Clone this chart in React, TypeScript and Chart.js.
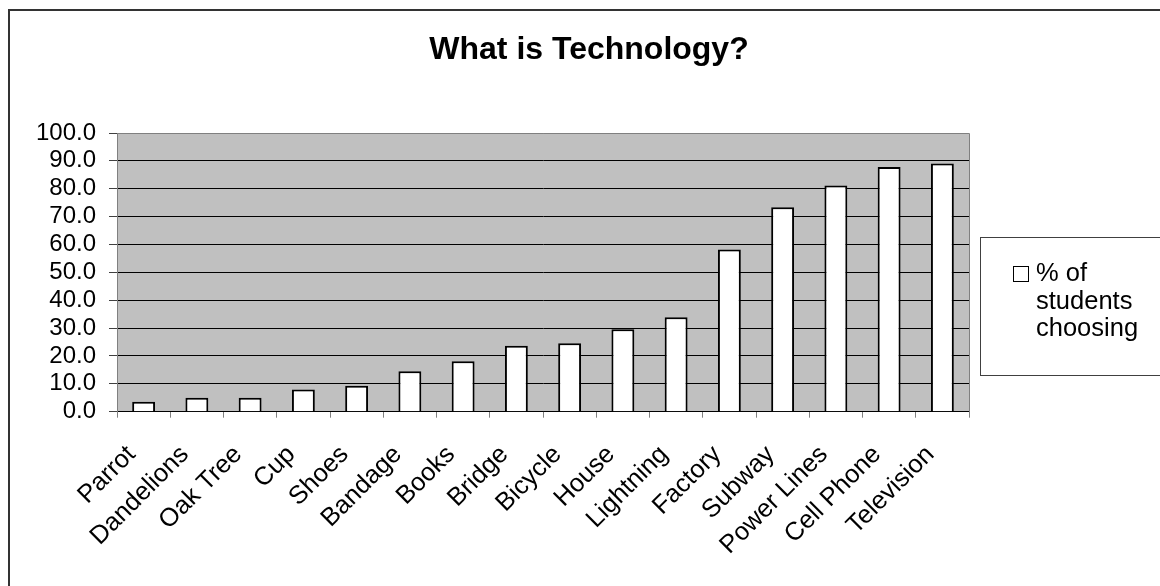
import React, { useEffect, useRef } from "react";
import { Chart, registerables } from "chart.js";

Chart.register(...registerables);

const categories = [
  "Parrot", "Dandelions", "Oak Tree", "Cup", "Shoes", "Bandage", "Books", "Bridge",
  "Bicycle", "House", "Lightning", "Factory", "Subway", "Power Lines", "Cell Phone", "Television",
];
const percentChoosing = [3.6, 5.0, 5.0, 8.0, 9.3, 14.5, 18.1, 23.7, 24.6, 29.6, 33.9, 58.2, 73.4, 81.2, 87.8, 89.1];
const seriesLabel = "% of students choosing";
const chartTitle = "What is Technology?";
const yMin = 0;
const yMax = 100;
const yStep = 10;

const FONT = '"Liberation Sans", Arial, sans-serif';

const decorPlugin = {
  id: "decor",
  beforeDraw(chart: any) {
    const { ctx, chartArea } = chart;
    ctx.save();
    ctx.fillStyle = "#ffffff";
    ctx.fillRect(0, 0, chart.width, chart.height);
    ctx.fillStyle = "#c0c0c0";
    ctx.fillRect(chartArea.left, chartArea.top, chartArea.right - chartArea.left, chartArea.bottom - chartArea.top);
    ctx.restore();
  },
  afterDraw(chart: any) {
    const { ctx, chartArea } = chart;
    ctx.save();
    // plot area border (top & right)
    ctx.strokeStyle = "#808080";
    ctx.lineWidth = 1;
    ctx.beginPath();
    ctx.moveTo(Math.round(chartArea.left) + 0.5, Math.round(chartArea.top) + 0.5);
    ctx.lineTo(Math.round(chartArea.right) + 0.5, Math.round(chartArea.top) + 0.5);
    ctx.lineTo(Math.round(chartArea.right) + 0.5, Math.round(chartArea.bottom) + 0.5);
    ctx.stroke();

    // outer chart border (left & top visible)
    ctx.strokeStyle = "#333333";
    ctx.lineWidth = 2;
    ctx.beginPath();
    ctx.moveTo(9, chart.height + 2);
    ctx.lineTo(9, 10);
    ctx.lineTo(chart.width + 2, 10);
    ctx.stroke();

    // title
    ctx.fillStyle = "#000";
    ctx.font = `bold 32px ${FONT}`;
    ctx.textAlign = "center";
    ctx.textBaseline = "middle";
    ctx.fillText(chartTitle, 589, 50);

    // legend box
    const lx = 980.5, ly = 237.5, lw = 200, lh = 138;
    ctx.fillStyle = "#ffffff";
    ctx.fillRect(lx, ly, lw, lh);
    ctx.strokeStyle = "#404040";
    ctx.lineWidth = 1;
    ctx.strokeRect(lx, ly, lw, lh);

    const ds = chart.data.datasets[0];
    ctx.fillStyle = ds.backgroundColor;
    ctx.fillRect(1013.5, 266.5, 15, 15);
    ctx.strokeStyle = "#000";
    ctx.strokeRect(1013.5, 266.5, 15, 15);

    ctx.font = `25.5px ${FONT}`;
    ctx.textAlign = "left";
    ctx.textBaseline = "alphabetic";
    ctx.fillStyle = "#000";
    const words = String(ds.label).split(" ");
    const lines: string[] = [];
    let cur = "";
    for (const w of words) {
      const test = cur ? cur + " " + w : w;
      if (cur && ctx.measureText(test).width > 115) {
        lines.push(cur);
        cur = w;
      } else {
        cur = test;
      }
    }
    if (cur) lines.push(cur);
    lines.forEach((l, i) => ctx.fillText(l, 1036, 281 + i * 27.5));
    ctx.restore();
  },
};

export default function App() {
  const ref = useRef<HTMLCanvasElement>(null);
  useEffect(() => {
    if (!ref.current) return;
    const chart = new Chart(ref.current, {
      type: "bar",
      data: {
        labels: categories,
        datasets: [
          {
            label: seriesLabel,
            data: percentChoosing,
            backgroundColor: "#ffffff",
            borderColor: "#000000",
            borderWidth: 2,
            borderSkipped: "bottom",
            categoryPercentage: 1,
            barPercentage: 0.43,
          },
        ],
      },
      options: {
        animation: false,
        responsive: true,
        maintainAspectRatio: false,
        devicePixelRatio: 1,
        layout: { padding: { top: 133, left: 0, right: 191, bottom: 0 } },
        plugins: {
          legend: { display: false },
          title: { display: false },
          tooltip: { enabled: false },
        },
        scales: {
          x: {
            grid: {
              offset: true,
              drawOnChartArea: false,
              drawTicks: true,
              tickLength: 6,
              color: "#808080",
            },
            border: { color: "#000000", width: 1 },
            ticks: {
              autoSkip: false,
              minRotation: 45,
              maxRotation: 45,
              color: "#000",
              padding: 22,
              labelOffset: -12,
              font: { family: FONT, size: 25.5 },
            },
            afterFit(scale: any) {
              scale.height = 174.3;
            },
          },
          y: {
            min: yMin,
            max: yMax,
            ticks: {
              stepSize: yStep,
              autoSkip: false,
              color: "#000",
              padding: 13,
              font: { family: FONT, size: 24 },
              callback: (v: any) => Number(v).toFixed(1),
            },
            grid: {
              color: (c: any) => (c.tick && c.tick.value === yMax ? "#808080" : "#000000"),
              tickColor: "#404040",
              tickLength: 8,
              lineWidth: 1,
            },
            border: { color: "#808080", width: 1 },
            afterFit(scale: any) {
              scale.width = 117;
            },
          },
        },
      },
      plugins: [decorPlugin],
    });
    return () => chart.destroy();
  }, []);

  return (
    <div style={{ position: "absolute", left: 0, top: 0, width: 1160, height: 586 }}>
      <canvas ref={ref} />
    </div>
  );
}
